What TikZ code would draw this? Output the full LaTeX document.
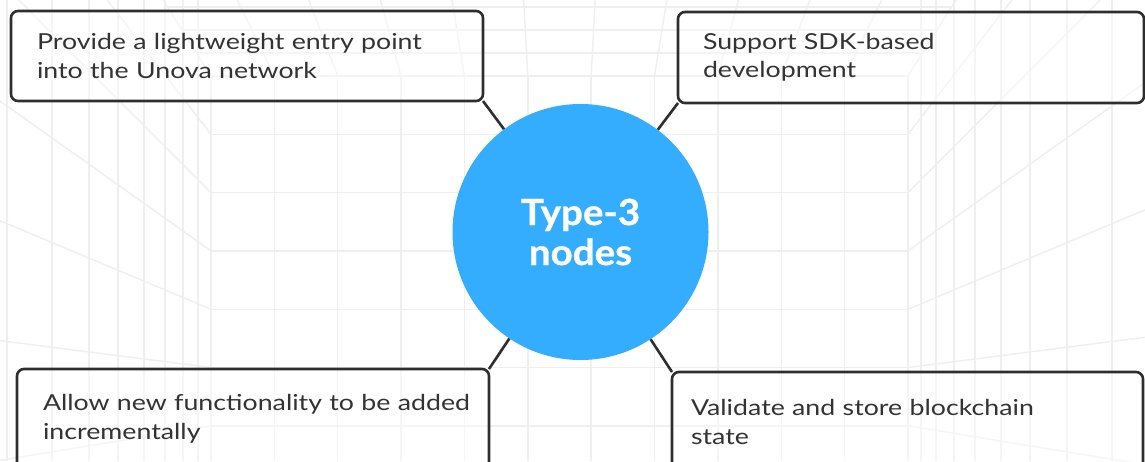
\documentclass[tikz,border=0pt]{standalone}
\usepackage{fontspec}
\setmainfont{Lato}
\newfontfamily\boxfont[FakeStretch=1.215]{Lato}
\newfontfamily\hubfont[FakeStretch=1.07,FakeBold=0.8]{Lato}
\definecolor{boxline}{HTML}{2E2E2E}
\definecolor{textcol}{HTML}{333333}
\definecolor{hubblue}{HTML}{35ADFF}
\definecolor{gridcol}{HTML}{EFEFEF}
\begin{document}
\begin{tikzpicture}[x=1pt,y=-1pt,
  grid/.style={draw=gridcol, line width=1.4pt},
  infobox/.style={draw=boxline, line width=2.6pt, rounded corners=7pt, outer sep=0pt,
    fill=white, fill opacity=0.4, text opacity=1, text=textcol,
    font=\boxfont\fontsize{22}{28.5}\selectfont, align=left, anchor=north west, inner ysep=0pt},
  link/.style={draw=boxline, line width=2.6pt},
  hub/.style={circle, fill=hubblue, minimum size=256pt, text=white,
    font=\hubfont\bfseries\fontsize{36}{40}\selectfont, align=center, inner sep=0pt}
]
\useasboundingbox (0,0) rectangle (1145,461);
\clip (0,0) rectangle (1145,461);
\fill[white] (0,0) rectangle (1145,461);
% background perspective grid
\foreach \i in {0,...,11} \draw[grid] ({211+63.36*\i},76) -- ({211+63.36*\i},461);
\foreach \y in {76,134.3,192.6,250.9,309.2,367.5,425.8} {
  \draw[grid] (211,\y) -- (908,\y);
  \draw[grid] (211,\y) -- ({211-200*1.5},{\y+1.5*(\y-393)});
  \draw[grid] (908,\y) -- ({908+200*1.5},{\y+1.5*(\y-393)});
}
\foreach \x in {7,52,89,118,144,165,183,198,921,936,954,975,1001,1030,1067,1112}
  \draw[grid] (\x,0) -- (\x,461);
\foreach \y in {53,30,7}
  \draw[grid] ({211-(76-\y)/1.585},\y) -- ({908+(76-\y)/1.585},\y);
\foreach \i in {1,...,10}
  \draw[grid] ({211+63.36*\i},76) -- ({211+63.36*\i+(211+63.36*\i-560)*0.13},0);
% boxes
\node[infobox, minimum width=472pt, minimum height=90pt, inner xsep=26pt, text width=420pt] (tl) at (11,11)
  {\mbox{Provide a lightweight entry point}\\into the Unova network};
\node[infobox, minimum width=466pt, minimum height=91pt, inner xsep=25pt, text width=416pt] (tr) at (678,12)
  {Support SDK-based\\development};
\node[infobox, minimum width=472pt, minimum height=100pt, inner xsep=26pt, text width=420pt] (bl) at (17,369)
  {\mbox{Allow new functionality to be added}\\incrementally};
\node[infobox, minimum width=471pt, minimum height=100pt, inner xsep=19pt, text width=433pt] (br) at (672,372)
  {Validate and store blockchain\\state};
% hub
\node[hub] (hub) at (580.5,232) {Type-3\\nodes};
% connectors
\draw[link] (tl.south east) -- (hub);
\draw[link] (tr.south west) -- (hub);
\draw[link] (bl.north east) -- (hub);
\draw[link] (br.north west) -- (hub);
\end{tikzpicture}
\end{document}
